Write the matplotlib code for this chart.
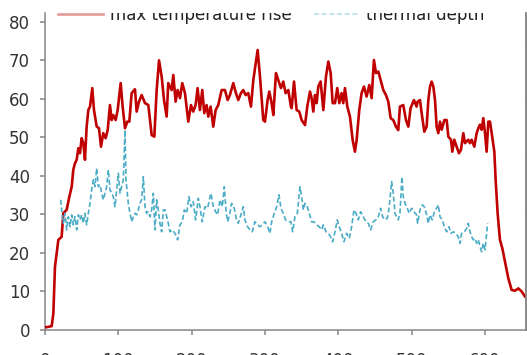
import matplotlib
matplotlib.use("Agg")
import matplotlib.pyplot as plt
from matplotlib.transforms import Bbox, TransformedBbox

plt.rcParams['font.family'] = ['DejaVu Sans']

# ---- data ----
temp_x = [0, 1.4, 9.1, 11.4, 13.6, 15.9, 18.2, 22.7, 25.0, 29.5,
          33.2, 36.4, 38.6, 40.9, 43.2, 45.5, 47.7, 50.0, 52.3, 54.5,
          56.8, 59.1, 61.4, 64.5, 66.8, 70.5, 73.6, 76.4, 79.5, 82.7,
          85.5, 88.6, 90.9, 93.2, 96.4, 99.1, 103.2, 105.9, 109.1, 112.3,
          115.0, 118.2, 122.7, 125.0, 128.2, 131.8, 136.4, 140.9, 145.5, 149.1,
          152.3, 155.5, 159.1, 162.3, 165.9, 168.1, 172.7, 175.0, 178.1, 180.9,
          184.1, 187.2, 190.9, 195.4, 199.1, 202.2, 205.4, 208.1, 211.3, 214.5,
          217.2, 220.4, 222.7, 225.9, 229.5, 232.7, 236.3, 240.9, 245.4, 249.1,
          252.2, 256.8, 260.4, 263.6, 267.2, 270.4, 273.6, 277.2, 280.9, 284.1,
          290.0, 293.2, 297.7, 300.0, 303.6, 305.9, 309.1, 311.4, 315.0, 318.2,
          321.8, 325.0, 328.1, 331.8, 335.4, 336.4, 339.6, 343.2, 346.8, 350.0,
          354.6, 357.7, 361.4, 363.6, 365.9, 368.2, 370.5, 372.7, 375.9, 379.6,
          383.2, 386.4, 389.6, 392.3, 395.5, 398.6, 401.4, 404.5, 406.8, 409.1,
          412.3, 415.9, 419.6, 422.7, 425.0, 428.6, 431.8, 435.0, 438.6, 442.3,
          445.5, 448.6, 451.4, 454.6, 457.7, 461.4, 465.0, 468.2, 471.4, 475.0,
          478.6, 481.8, 484.1, 488.6, 492.3, 495.5, 498.6, 503.2, 506.8, 508.2,
          511.4, 513.7, 517.3, 520.5, 522.8, 525.1, 527.3, 529.6, 531.9, 534.1,
          536.4, 538.7, 541.0, 544.6, 547.8, 550.1, 553.7, 555.5, 558.2, 561.4,
          564.6, 567.3, 570.5, 572.8, 575.1, 577.3, 579.6, 581.9, 585.5, 588.7,
          591.0, 593.2, 595.5, 597.8, 600.1, 602.3, 604.6, 606.9, 610.1, 612.8,
          614.6, 617.3, 620.5, 623.7, 627.3, 631.9, 636.4, 641.0, 645.5, 650.1,
          654.6]
temp_rise = [0.8, 0.7, 1.0, 4.3, 16.4, 19.9, 23.4, 24.2, 30.3, 31.2,
             34.6, 37.2, 41.6, 43.3, 44.2, 47.2, 45.9, 49.8, 48.5, 44.2,
             52.8, 57.1, 58.0, 62.8, 57.1, 52.8, 52.4, 47.6, 51.1, 49.8,
             51.9, 58.4, 54.5, 55.8, 54.5, 57.1, 64.1, 58.0, 52.4, 54.1,
             54.1, 61.5, 62.5, 56.7, 59.3, 61.0, 58.9, 58.4, 50.6, 50.2,
             62.3, 70.0, 65.8, 59.7, 55.4, 64.1, 62.3, 66.2, 59.3, 62.3,
             60.2, 64.1, 61.5, 54.1, 58.4, 56.7, 58.4, 62.8, 57.1, 62.3,
             56.3, 58.4, 55.4, 58.0, 52.8, 57.1, 58.4, 62.3, 62.3, 59.7,
             61.0, 64.1, 61.5, 59.7, 61.5, 62.3, 61.0, 61.5, 58.0, 64.9,
             72.7, 65.8, 54.5, 54.1, 59.7, 61.9, 58.9, 55.8, 66.7, 64.9,
             62.8, 64.5, 61.5, 62.3, 58.0, 57.6, 64.5, 57.1, 56.7, 54.5,
             53.2, 58.0, 61.9, 60.2, 56.7, 61.0, 58.9, 63.2, 64.5, 57.1,
             65.8, 69.7, 66.7, 58.9, 58.9, 62.8, 58.9, 61.5, 58.9, 62.8,
             58.0, 55.4, 49.3, 46.3, 49.3, 57.1, 61.5, 63.2, 60.6, 63.6,
             60.2, 70.1, 66.7, 67.1, 64.9, 62.3, 61.0, 59.3, 55.0, 54.5,
             52.8, 51.9, 58.0, 58.4, 54.5, 52.8, 57.6, 59.7, 58.0, 59.3,
             59.7, 56.3, 51.5, 52.8, 59.7, 63.2, 64.5, 63.2, 59.7, 52.8,
             51.1, 54.1, 52.0, 54.5, 54.5, 50.2, 49.4, 46.3, 49.4, 47.6,
             45.9, 46.8, 51.1, 48.5, 49.0, 49.4, 48.5, 49.4, 47.6, 51.1,
             52.4, 53.3, 52.0, 55.0, 51.1, 46.3, 54.1, 54.1, 49.8, 46.3,
             39.0, 30.3, 23.4, 21.2, 17.8, 13.4, 10.4, 10.2, 10.8, 10.0,
             8.7]

depth_x = [21.4, 22.7, 25.0, 27.3, 29.5, 31.8, 34.1, 36.4, 38.6, 40.9,
           43.2, 45.5, 47.7, 50.0, 52.3, 54.5, 56.8, 59.1, 61.4, 63.6,
           65.9, 68.2, 70.5, 72.7, 75.0, 77.3, 79.5, 81.8, 84.1, 86.4,
           88.6, 90.9, 93.2, 95.5, 97.7, 100.0, 102.3, 104.5, 106.8, 109.1,
           110.5, 112.3, 113.6, 115.9, 118.2, 120.5, 122.7, 125.0, 127.3, 129.5,
           131.8, 134.1, 136.4, 138.6, 140.9, 143.2, 145.5, 147.7, 150.0, 152.3,
           154.5, 156.8, 159.1, 161.4, 163.6, 167.2, 170.4, 173.6, 177.2, 180.9,
           184.1, 187.2, 190.0, 193.2, 196.3, 199.1, 202.2, 205.4, 209.1, 211.3,
           214.5, 218.1, 221.8, 224.1, 226.3, 229.5, 232.7, 235.4, 238.6, 241.8,
           244.5, 246.8, 249.1, 252.2, 254.5, 258.1, 261.3, 263.6, 267.2, 270.4,
           272.7, 276.3, 279.5, 282.7, 286.3, 290.0, 293.2, 296.3, 300.0, 303.6,
           306.8, 309.1, 312.7, 315.9, 319.1, 321.8, 325.0, 328.1, 331.8, 335.4,
           337.7, 340.9, 344.1, 347.7, 350.0, 352.3, 354.6, 357.7, 360.5, 363.6,
           366.8, 370.5, 374.1, 377.3, 379.6, 383.2, 386.4, 389.6, 392.3, 395.5,
           398.6, 401.4, 404.5, 407.7, 411.4, 415.0, 418.2, 421.4, 424.1, 427.3,
           430.5, 434.1, 437.7, 440.9, 444.1, 447.7, 451.4, 454.6, 457.7, 460.5,
           463.6, 466.8, 469.5, 472.7, 475.0, 477.3, 479.6, 481.8, 484.1, 486.8,
           488.6, 490.9, 494.1, 496.8, 500.0, 503.2, 506.8, 508.2, 511.4, 514.6,
           517.3, 520.5, 522.8, 525.1, 528.2, 531.0, 534.1, 536.4, 538.7, 541.9,
           544.6, 547.8, 551.0, 553.7, 556.9, 560.1, 563.7, 566.0, 568.2, 571.9,
           575.1, 577.3, 579.6, 581.9, 584.1, 586.4, 588.7, 591.0, 593.2, 595.5,
           597.8, 600.1, 602.3, 603.7]
thermal_depth = [33.8, 31.2, 27.7, 30.3, 26.0, 29.4, 26.8, 29.9, 27.3, 29.4,
                 26.0, 29.9, 28.6, 29.9, 27.7, 30.3, 27.3, 30.3, 32.9, 36.4,
                 39.0, 37.2, 42.0, 37.2, 37.7, 35.5, 33.8, 35.5, 37.2, 41.6,
                 36.4, 35.5, 34.6, 32.0, 36.4, 40.7, 35.5, 37.2, 39.0, 51.9,
                 39.0, 35.5, 32.9, 30.3, 28.1, 29.4, 30.3, 29.9, 31.2, 32.9,
                 33.8, 39.8, 32.0, 30.3, 30.7, 29.4, 31.2, 35.5, 26.0, 33.8,
                 31.2, 27.7, 25.5, 31.2, 31.2, 28.6, 25.5, 26.0, 25.1, 23.4,
                 27.3, 28.1, 31.2, 30.3, 34.6, 32.0, 33.3, 28.6, 34.2, 32.0,
                 28.1, 32.0, 31.6, 33.8, 35.5, 32.0, 30.7, 29.9, 33.8, 32.0,
                 37.2, 31.2, 28.1, 30.3, 32.9, 31.6, 28.6, 27.7, 29.9, 32.0,
                 28.6, 26.8, 26.0, 25.5, 28.1, 27.3, 26.8, 27.3, 28.1, 26.8,
                 25.1, 28.1, 30.3, 32.0, 35.1, 31.6, 30.3, 28.6, 28.1, 28.1,
                 25.5, 29.4, 30.3, 37.2, 34.6, 31.2, 32.9, 32.0, 30.3, 28.1,
                 28.1, 27.3, 26.8, 26.0, 27.3, 25.5, 25.1, 24.2, 22.9, 25.5,
                 28.6, 26.8, 25.1, 22.9, 25.1, 23.8, 26.8, 31.2, 30.3, 28.6,
                 30.7, 29.4, 28.1, 27.7, 26.0, 28.1, 28.6, 29.4, 31.6, 29.4,
                 28.6, 29.0, 32.0, 38.5, 35.5, 30.3, 29.4, 28.6, 30.3, 39.8,
                 34.6, 32.9, 31.6, 30.3, 31.6, 30.7, 29.9, 27.7, 31.2, 32.5,
                 32.0, 29.9, 27.7, 29.9, 28.6, 30.7, 31.6, 32.5, 29.4, 28.6,
                 26.8, 25.5, 26.8, 25.1, 25.5, 25.1, 24.2, 22.5, 25.1, 25.5,
                 26.4, 27.7, 25.5, 24.2, 23.4, 23.8, 22.5, 23.4, 21.7, 20.3,
                 22.5, 20.8, 25.1, 27.7]

series_labels = ["max temperature rise", "thermal depth"]
y_ticks = [0, 10, 20, 30, 40, 50, 60, 70, 80]
x_ticks = [0, 100, 200, 300, 400, 500, 600]
right_ticks = [0, 15, 30, 45, 60, 75]

# ---- figure ----
W, H = 527, 355
fig = plt.figure(figsize=(W / 100, H / 100), dpi=100)
ax = fig.add_axes([45 / W, 25 / H, 481 / W, 317 / H])

red = '#C00000'
blue = '#4BACC6'
axis_gray = '#868686'
text_col = '#333333'

ax.plot(temp_x, temp_rise, color=red, lw=1.9, solid_joinstyle='round',
        label=series_labels[0], zorder=3)
ax.plot(depth_x, thermal_depth, color=blue, lw=1.2, dashes=(3, 1.6),
        label=series_labels[1], zorder=4)

ax.set_xlim(0, 656)
ax.set_ylim(0, 82.3)
ax.set_xticks(x_ticks)
ax.set_yticks(y_ticks)

ax.spines['top'].set_visible(False)
for side in ['left', 'bottom', 'right']:
    ax.spines[side].set_color(axis_gray)
    ax.spines[side].set_linewidth(1.1)

ax.tick_params(axis='both', direction='out', length=3.8, width=1.1,
               color=axis_gray, labelsize=12, labelcolor=text_col)
ax.tick_params(axis='y', pad=7)
ax.tick_params(axis='x', pad=12)

ax2 = ax.twinx()
ax2.set_ylim(0, 82.3)
ax2.set_yticks(right_ticks)
ax2.set_yticklabels([])
for side in ['top', 'left', 'bottom']:
    ax2.spines[side].set_visible(False)
ax2.spines['right'].set_color(axis_gray)
ax2.spines['right'].set_linewidth(1.1)
ax2.tick_params(axis='y', direction='out', length=3.8, width=1.1, color=axis_gray)

# legend: in the reference its upper part is cut off by the image edge
handles, labels = ax.get_legend_handles_labels()
leg = fig.legend(handles, labels, loc='center left',
                 bbox_to_anchor=(58 / W, (H - 14.5) / H), ncol=2, frameon=False,
                 borderpad=0, borderaxespad=0, handlelength=2.7,
                 handletextpad=0.45, columnspacing=1.3, fontsize=12)
clip = TransformedBbox(Bbox([[0, 0], [1, (H - 12.5) / H]]), fig.transFigure)
for t in leg.get_texts():
    t.set_color('#222222')
    t.set_clip_on(True)
    t.set_clip_box(clip)
for h in leg.legend_handles:
    h.set_alpha(0.4)
    h.set_clip_on(True)
    h.set_clip_box(clip)

fig.savefig('out.png', dpi=100)
